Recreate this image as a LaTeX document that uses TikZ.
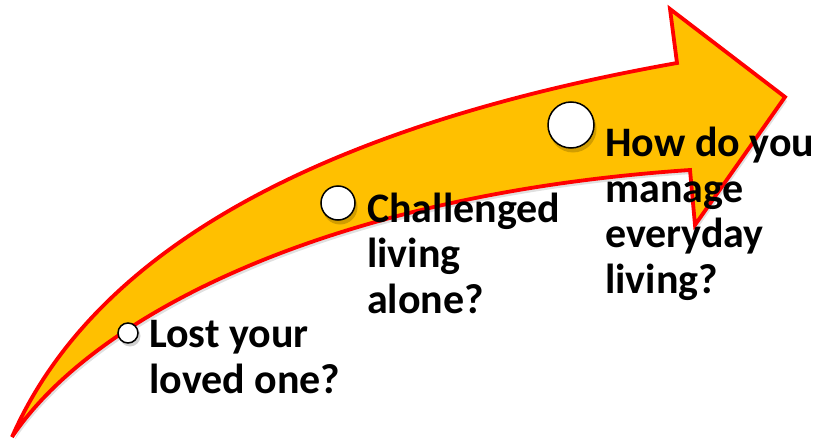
\documentclass[tikz,border=0pt]{standalone}
\usepackage{fontspec}
\setmainfont{Carlito}
\definecolor{arrowfill}{HTML}{FFC000}
\definecolor{arrowline}{HTML}{FF0000}
\begin{document}
\begin{tikzpicture}[x=1pt,y=-1pt,
  stepdot/.style={circle,draw=black,line width=1.5pt,fill=white,inner sep=0pt},
  stepshadow/.style={circle,fill=black,opacity=0.18,inner sep=0pt},
  steptext/.style={anchor=base west,align=left,inner sep=0pt,
    font=\fontsize{42}{45.5}\selectfont\bfseries}]
\useasboundingbox (0,0) rectangle (820,439);
% arrow
\coordinate (tail) at (12,437);
\coordinate (upjoin) at (677,63);
\coordinate (headtop) at (670,9);
\coordinate (tip) at (785,97);
\coordinate (headbot) at (695,225);
\coordinate (lowjoin) at (690,170);
\fill[black,opacity=0.12] ([shift={(2,4)}]tail) .. controls (92,264) and (302,134) .. ([shift={(2,4)}]upjoin)
  -- ([shift={(2,4)}]headtop) -- ([shift={(2,4)}]tip) -- ([shift={(2,4)}]headbot) -- ([shift={(2,4)}]lowjoin)
  .. controls (322,199) and (92,324) .. ([shift={(2,4)}]tail) -- cycle;
\draw[arrowline,fill=arrowfill,line width=3.8pt,line join=miter]
  (tail) .. controls (90,260) and (300,130) .. (upjoin)
  -- (headtop) -- (tip) -- (headbot) -- (lowjoin)
  .. controls (320,195) and (90,320) .. (tail) -- cycle;
% dots
\node[stepshadow,minimum size=21pt] at (130,336) {};
\node[stepdot,minimum size=20pt] (d1) at (128,333) {};
\node[stepshadow,minimum size=35pt] at (340,207) {};
\node[stepdot,minimum size=34pt] (d2) at (338,203) {};
\node[stepshadow,minimum size=47pt] at (573,129) {};
\node[stepdot,minimum size=46pt] (d3) at (571,125) {};
% texts
\node[steptext] (t1) at (149,393) {Lost your\\loved one?};
\node[steptext] (t2) at (367,313) {Challenged\\living\\alone?};
\node[steptext] (t3) at (605,293) {How do you\\manage\\everyday\\living?};
\end{tikzpicture}
\end{document}
